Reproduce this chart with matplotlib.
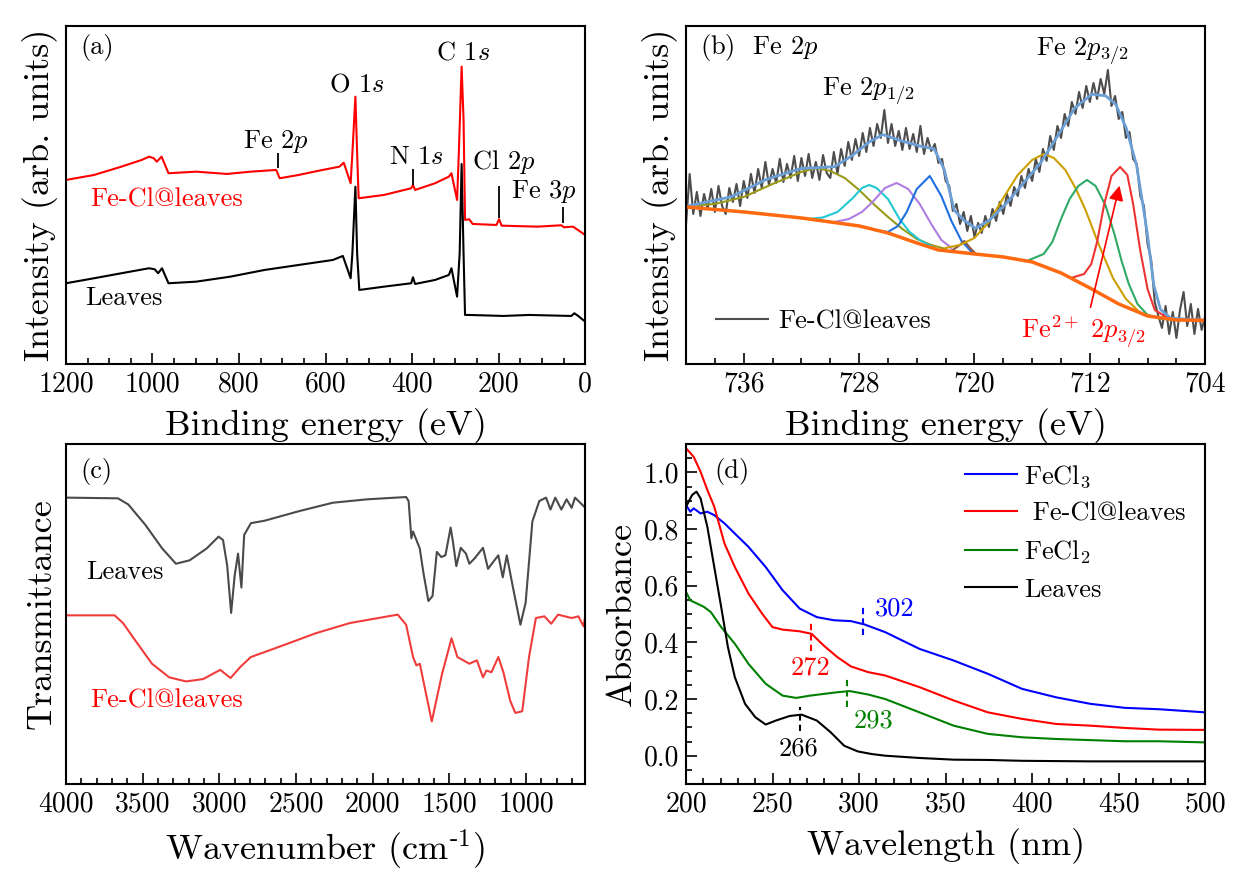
import numpy as np
import matplotlib
matplotlib.use('Agg')
import matplotlib.pyplot as plt
from matplotlib.ticker import MultipleLocator, NullLocator

plt.rcParams['font.family'] = ['cmr10', 'DejaVu Serif']
plt.rcParams['mathtext.fontset'] = 'cm'
plt.rcParams['axes.unicode_minus'] = False
plt.rcParams['axes.linewidth'] = 1.5

# ---------------- (a) XPS survey ----------------
survey_fe_e = [1200, 1135, 1072, 1025, 1008, 997, 990, 979, 963, 899, 828, 773, 714, 706, 662, 615, 568, 558, 542, 538,
               531, 527, 523.5, 465, 402, 398, 393, 347, 315, 309, 296, 292, 285.5, 281, 277.6, 268, 260, 205, 199, 193,
               110, 55, 49, 28, 0]
survey_fe_i = [184, 189, 197.3, 204, 207.3, 205.7, 202.3, 207.3, 190.7, 192.3, 190, 192.3, 194, 185.7, 189, 193.3, 197.3, 201.3, 180.7, 210.7,
               267.3, 210.7, 165.7, 169, 175.7, 179, 174, 180.7, 187.3, 190.7, 164, 210.7, 297.3, 244, 144, 144.7, 140, 139, 144.7, 138.3,
               137.3, 138.7, 136.7, 137.3, 129]
survey_leaves_e = [1200, 1135, 1072, 1008, 995, 987, 978, 963, 899, 820, 741, 662, 583, 560, 542, 538, 531, 527, 522, 465,
                   402, 398, 393, 347, 315, 309, 296, 290, 285.5, 281, 277.6, 268, 189, 130, 32, 25, 16, 0]
survey_leaves_i = [80.7, 85.7, 90.7, 95.7, 94.7, 90.7, 95.7, 80.7, 82.3, 87.3, 94, 99, 104, 108, 85.7, 110.7, 177.3, 110.7, 74, 77.3,
                   80.7, 86.7, 80, 84, 89, 95.7, 67.3, 110.7, 200, 110, 49, 49, 48, 49, 48, 50.7, 48, 42.3]
# marker ticks (energy, bottom, top) and labels
mark_e = [711, 398, 198, 51]
mark_lo = [196, 179, 146, 141]
mark_hi = [211, 195, 178, 157]
peak_labels = ['Fe $2p$', 'O $1s$', 'C $1s$', 'N $1s$', 'Cl $2p$', 'Fe $3p$']
peak_label_e = [715, 527, 283, 389, 189, 95]
peak_label_i = [222, 279, 311, 207, 202, 172]

# ---------------- (b) Fe 2p ----------------
fe2p_raw = [140, 190, 150, 172,
            148, 170, 155, 175,
            152, 178, 158, 150,
            176, 162, 180, 158,
            183, 166, 190, 171,
            195, 176, 202, 179,
            195, 181, 205, 182,
            200, 186, 208, 183,
            206, 188, 210, 186,
            202, 184, 209, 191,
            186, 212, 190, 215,
            198, 222, 204, 225,
            208, 231, 212, 236,
            218, 240, 226, 254,
            221, 240, 218, 233,
            214, 236, 215, 230,
            212, 238, 210, 226,
            213, 220, 201, 205,
            183, 178, 153, 160,
            140, 152, 133, 148,
            127, 141, 131, 148,
            137, 155, 143, 162,
            150, 170, 158, 177,
            168, 188, 176, 195,
            183, 205, 192, 215,
            203, 228, 214, 238,
            226, 250, 238, 262,
            250, 272, 256, 278,
            262, 281, 265, 285,
            270, 294, 258, 268,
            245, 252, 226, 232,
            205, 200, 168, 158,
            120, 104, 62, 48,
            36, 58, 30, 52,
            26, 54, 72, 38,
            60, 30, 55, 34,
            48]
fe2p_raw_e = np.linspace(740, 704, len(fe2p_raw))

env_e = [740, 736.85, 734.47, 732.09, 729.7, 728.5, 727.3, 726.37, 725.18, 723.75, 722.8, 722.1, 721.4, 720.7, 719.94,
         719.0, 717.8, 716.6, 715.4, 714.2, 713.04, 711.85, 710.9, 710.2, 709.47, 708.75, 708.04, 707.56, 707.1, 706.4, 704]
env_i = [157.6, 167.2, 184.3, 195.3, 197.3, 208.2, 221.9, 229.4, 223.6, 217.8, 215.1, 194.6, 153.5, 143.3, 135.8,
         143.3, 160.4, 180.9, 201.4, 228.8, 256.1, 269.8, 268.1, 259.5, 235.6, 198, 133, 78.3, 54.4, 45.9, 43.5]
bg_e = [740, 736, 732, 728, 726, 724, 722.5, 720, 718, 716, 714, 712, 710, 708, 706, 704]
bg_i = [157, 152, 146, 138, 131, 121, 114, 110, 107, 102, 91, 76, 60, 48, 44, 43.5]

olive_e = [740, 738, 736, 734, 732, 731, 730, 729, 728, 727, 726, 725, 724, 723, 722]
olive_i = [157.5, 160, 167, 180, 192, 196, 193, 186, 174, 160, 147, 135, 125, 119, 115]
cyan_e = [731.5, 730.5, 729.5, 728.5, 727.8, 727.3, 726.8, 726, 725.2, 724.5, 723.8, 723]
cyan_i = [145, 146.5, 152, 165, 176, 179, 176, 165, 145, 132, 124, 118]
purple_e = [729.7, 728.7, 727.8, 727, 726.2, 725.4, 724.6, 723.8, 723, 722.3, 721.6]
purple_i = [142, 145, 152, 163, 176, 181, 175, 160, 140, 124, 116]
blue_e = [727, 726, 725.3, 724.7, 724, 723.1, 722.3, 721.6, 720.9, 720.2]
blue_i = [134, 132, 138, 152, 175, 188, 168, 143, 123, 112]
brown_e = [721.6, 721.1, 720.7, 720.3, 719.9]
brown_i = [113, 118, 123, 116, 110]
gold_e = [722, 721, 720, 719, 718, 717, 716, 715.2, 714.5, 713.7, 713, 712.3, 711.4, 710.4, 709.5, 708.5, 707, 705]
gold_i = [116, 119, 126, 142, 166, 189, 204, 210, 206, 194, 176, 154, 120, 86, 65, 51, 45, 44]
green_e = [716.2, 715.2, 714.6, 714, 713.4, 712.8, 712.2, 711.6, 710.9, 710.3, 709.8, 709.3, 708.7, 708, 707, 705]
green_i = [104, 110, 122, 145, 165, 178, 184, 178, 158, 130, 103, 80, 60, 49, 45, 44]
red_e = [713.3, 712.4, 711.9, 711.5, 711.0, 710.5, 709.9, 709.4, 709.0, 708.5, 708.0, 707.5, 706.6, 705]
red_i = [86, 90, 100, 122, 160, 188, 197, 189, 160, 113, 75, 54, 46, 44]

# ---------------- (c) FTIR ----------------
ir_leaves_w = [4000, 3661, 3594, 3483, 3372, 3283, 3194, 3083, 3005, 2976, 2949, 2923, 2900, 2878, 2856, 2838, 2794, 2705, 2482, 2260,
               2037, 1782, 1766, 1748, 1737, 1715, 1693, 1670, 1637, 1610, 1582, 1553, 1526, 1492, 1477, 1455, 1426, 1392, 1370, 1337,
               1281, 1248, 1215, 1181, 1152, 1126, 1092, 1037, 1003, 959, 914, 870, 841, 810, 770, 736, 703, 681, 647, 614]
ir_leaves_t = [286.4, 285.7, 279.6, 259.3, 235.5, 220.3, 223.7, 235.5, 247.4, 244, 218.6, 171.1, 208.4, 230.4, 196.5, 249.1, 260.9, 263.3, 272.8, 281.3,
               284.7, 287, 283, 245.7, 252.5, 244, 235.5, 211.8, 183, 188, 232.1, 227, 228.7, 256.5, 242.3, 217.9, 236.2, 230.4, 220.3, 225.4,
               236.2, 215.2, 222, 228.7, 206.7, 228.7, 201.6, 159.3, 181.3, 262.6, 283, 286.4, 274.5, 286.4, 274.5, 284.7, 276.2, 286.4, 281.3, 276.2]
ir_fe_w = [4000, 3683, 3628, 3550, 3439, 3327, 3216, 3105, 2994, 2927, 2860, 2794, 2593, 2371, 2149, 1837, 1782, 1737, 1715, 1693,
           1615, 1548, 1486, 1448, 1370, 1321, 1281, 1259, 1226, 1181, 1148, 1103, 1070, 1025, 981, 936, 881, 836, 792, 703,
           659, 625, 614]
ir_fe_t = [168.7, 168.7, 161, 144, 120.3, 106.7, 102.6, 105, 114.2, 106, 117.6, 127, 138.2, 150.8, 161, 169.4, 159.3, 127, 118.6, 120.3,
           62.6, 110.1, 145.7, 127, 120.3, 123.7, 106.7, 113.5, 111.8, 127, 111.8, 83, 71.1, 72.8, 127, 166, 167.7, 160.3, 169.4, 166,
           167.7, 157.6, 168.4]

# ---------------- (d) UV-vis ----------------
uv_fecl3_wl = [200, 202.5, 204.4, 208.4, 212.3, 216.3, 222.2, 228.2, 236.1, 246, 255.8, 265.7, 275.6, 285.5, 295.3, 303.2,
               315.1, 334.9, 354.6, 374.4, 394.1, 413.9, 433.7, 453.4, 473.2, 500]
uv_fecl3_a = [0.884, 0.861, 0.873, 0.855, 0.861, 0.849, 0.820, 0.784, 0.737, 0.666, 0.584, 0.519, 0.489, 0.478, 0.475, 0.463,
              0.436, 0.377, 0.336, 0.289, 0.236, 0.206, 0.183, 0.169, 0.164, 0.153]
uv_fecl_wl = [200, 204.4, 208.4, 212.3, 216.3, 222.2, 228.2, 236.1, 244, 249.9, 255.8, 265.7, 272.6, 279.5, 287.4, 295.3,
              305.2, 315.1, 334.9, 354.6, 374.4, 394.1, 413.9, 433.7, 453.4, 473.2, 500]
uv_fecl_a = [1.085, 1.055, 1.002, 0.938, 0.879, 0.749, 0.666, 0.572, 0.501, 0.454, 0.445, 0.439, 0.430, 0.389, 0.348, 0.315,
             0.295, 0.283, 0.242, 0.195, 0.153, 0.130, 0.112, 0.106, 0.098, 0.092, 0.091]
uv_fecl2_wl = [200, 202.5, 206.4, 210.4, 214.3, 220.3, 228.2, 236.1, 246, 255.8, 263.7, 271.6, 279.5, 287.4, 294.7, 305.2,
               315.1, 334.9, 354.6, 374.4, 394.1, 413.9, 433.7, 453.4, 473.2, 500]
uv_fecl2_a = [0.578, 0.548, 0.537, 0.525, 0.507, 0.454, 0.395, 0.324, 0.254, 0.212, 0.204, 0.212, 0.218, 0.224, 0.228, 0.216,
              0.200, 0.153, 0.106, 0.077, 0.065, 0.059, 0.055, 0.051, 0.051, 0.047]
uv_leaves_wl = [200, 203.5, 206, 208.4, 212.3, 216.3, 220.3, 224.2, 228.2, 234.1, 240, 246, 251.9, 259.8, 266.7, 275.6,
                283.5, 291.4, 299.3, 307.2, 315.1, 334.9, 354.6, 374.4, 394.1, 433.7, 500]
uv_leaves_a = [0.879, 0.920, 0.932, 0.908, 0.808, 0.666, 0.525, 0.383, 0.277, 0.183, 0.136, 0.110, 0.124, 0.140, 0.145, 0.124,
               0.083, 0.035, 0.015, 0.006, 0.000, -0.008, -0.014, -0.015, -0.018, -0.020, -0.020]
uv_names = ['FeCl$_3$', ' Fe-Cl@leaves', 'FeCl$_2$', 'Leaves']
uv_colors = ['#0000ff', '#ff0000', '#008000', '#000000']
# shoulder markers: wavelength, lower, upper, label position
sh_wl = [302, 272, 293, 266]
sh_lo = [0.425, 0.371, 0.171, 0.088]
sh_hi = [0.528, 0.472, 0.277, 0.171]
sh_txt_x = [309, 272, 297, 265]
sh_txt_y = [0.519, 0.312, 0.124, 0.024]
sh_ha = ['left', 'center', 'left', 'center']


def style(ax, yticks=False):
    ax.tick_params(which='both', direction='in', top=False, right=False,
                   labelsize=20, width=1.2, pad=5)
    ax.tick_params(which='major', length=8)
    ax.tick_params(which='minor', length=4.5)
    if not yticks:
        ax.yaxis.set_major_locator(NullLocator())
        ax.yaxis.set_minor_locator(NullLocator())


fig = plt.figure(figsize=(12.35, 8.77), dpi=100)
ax_a = fig.add_axes([0.0534, 0.585, 0.4204, 0.3854])
ax_b = fig.add_axes([0.5555, 0.585, 0.4204, 0.3854])
ax_c = fig.add_axes([0.0534, 0.106, 0.4204, 0.3877])
ax_d = fig.add_axes([0.5555, 0.106, 0.4204, 0.3877])

# (a)
ax = ax_a
ax.plot(survey_leaves_e, survey_leaves_i, color='black', lw=1.5)
ax.plot(survey_fe_e, survey_fe_i, color='#ff0000', lw=1.5)
ax.vlines(mark_e, mark_lo, mark_hi, color='black', lw=1.3)
for s, x, y in zip(peak_labels, peak_label_e, peak_label_i):
    ax.text(x, y, s, fontsize=19, ha='center', va='center')
ax.text(0.027, 0.935, '(a)', fontsize=19, transform=ax.transAxes, va='center')
ax.text(1145, 164, 'Fe-Cl@leaves', color='#ff0000', fontsize=19, va='center')
ax.text(1155, 66, 'Leaves', color='black', fontsize=19, va='center')
ax.set_xlim(1200, 0)
ax.set_ylim(0, 338)
ax.xaxis.set_major_locator(MultipleLocator(200))
ax.xaxis.set_minor_locator(MultipleLocator(50))
style(ax)
ax.set_xlabel('Binding energy (eV)', fontsize=26, labelpad=8)
ax.set_ylabel('Intensity (arb. units)', fontsize=26, labelpad=6)

# (b)
ax = ax_b
raw_line, = ax.plot(fe2p_raw_e, fe2p_raw, color='#4d4d4d', lw=1.5)
comps = [(olive_e, olive_i, '#9a9a1a'), (cyan_e, cyan_i, '#22c8d0'), (purple_e, purple_i, '#b07ee0'),
         (blue_e, blue_i, '#1f6fe0'), (brown_e, brown_i, '#8c564b'), (gold_e, gold_i, '#cc9f00'),
         (green_e, green_i, '#2eaa66'), (red_e, red_i, '#ee3333')]
for xe, yi, c in comps:
    ax.plot(xe, yi, color=c, lw=1.5)
ax.plot(env_e, env_i, color='#6b9fd6', lw=2)
ax.plot(bg_e, bg_i, color='#ff6a10', lw=2.5)
ax.annotate('', xy=(709.9, 181), xytext=(712.0, 54),
            arrowprops=dict(arrowstyle='-|>', color='#ff0000', lw=1.2, mutation_scale=22))
ax.text(0.027, 0.935, '(b)  Fe $2p$', fontsize=19, transform=ax.transAxes, va='center')
ax.text(730.6, 273, 'Fe $2p_{1/2}$', fontsize=19, va='center')
ax.text(715.7, 313, 'Fe $2p_{3/2}$', fontsize=19, va='center')
ax.text(716.8, 32, r'$\mathrm{Fe}^{2+}\ 2p_{3/2}$', fontsize=19, va='center', color='#ff0000')
ax.legend([raw_line], ['Fe-Cl@leaves'], loc='center left', bbox_to_anchor=(0.058, 0.126),
          frameon=False, fontsize=19, borderpad=0, borderaxespad=0,
          handlelength=1.95, handletextpad=0.42)
ax.set_xlim(740, 704)
ax.set_ylim(0, 338)
ax.xaxis.set_major_locator(MultipleLocator(8))
ax.xaxis.set_minor_locator(MultipleLocator(2))
style(ax)
ax.set_xlabel('Binding energy (eV)', fontsize=26, labelpad=8)
ax.set_ylabel('Intensity (arb. units)', fontsize=26, labelpad=6)

# (c)
ax = ax_c
ax.plot(ir_leaves_w, ir_leaves_t, color='#4a4a4a', lw=1.5)
ax.plot(ir_fe_w, ir_fe_t, color='#f03c3c', lw=1.5)
ax.text(0.027, 0.918, '(c)', fontsize=19, transform=ax.transAxes, va='center')
ax.text(3870, 212, 'Leaves', fontsize=19, va='center')
ax.text(3840, 83, 'Fe-Cl@leaves', fontsize=19, va='center', color='#ff0000')
ax.set_xlim(4000, 615)
ax.set_ylim(0, 340)
ax.xaxis.set_major_locator(MultipleLocator(500))
ax.xaxis.set_minor_locator(MultipleLocator(100))
style(ax)
ax.set_xlabel(r'Wavenumber (cm$^{\text{-1}}$)', fontsize=26, labelpad=8)
ax.set_ylabel('Transmittance', fontsize=26, labelpad=6)

# (d)
ax = ax_d
series = [(uv_fecl3_wl, uv_fecl3_a), (uv_fecl_wl, uv_fecl_a), (uv_fecl2_wl, uv_fecl2_a), (uv_leaves_wl, uv_leaves_a)]
for (wl, a), name, c in zip(series, uv_names, uv_colors):
    ax.plot(wl, a, color=c, lw=1.5, label=name)
for x, lo, hi, tx, ty, ha, c in zip(sh_wl, sh_lo, sh_hi, sh_txt_x, sh_txt_y, sh_ha, uv_colors):
    ax.plot([x, x], [lo, hi], color=c, lw=1.5, ls=(0, (3, 2)))
    ax.text(tx, ty, str(x), color=c, fontsize=19, ha=ha, va='center')
ax.text(0.054, 0.918, '(d)', fontsize=19, transform=ax.transAxes, va='center')
ax.legend(loc='upper left', bbox_to_anchor=(0.538, 0.945), frameon=False, fontsize=19,
          borderpad=0, borderaxespad=0, handlelength=1.95, handletextpad=0.27, labelspacing=0.47)
ax.set_xlim(200, 500)
ax.set_ylim(-0.1, 1.1)
ax.xaxis.set_major_locator(MultipleLocator(50))
ax.xaxis.set_minor_locator(MultipleLocator(10))
ax.yaxis.set_major_locator(MultipleLocator(0.2))
ax.yaxis.set_minor_locator(MultipleLocator(0.05))
ax.yaxis.set_major_formatter(plt.FormatStrFormatter('%.1f'))
style(ax, yticks=True)
ax.set_xlabel('Wavelength (nm)', fontsize=26, labelpad=8)
ax.set_ylabel('Absorbance', fontsize=26, labelpad=4)

fig.savefig('out.png', dpi=100)
